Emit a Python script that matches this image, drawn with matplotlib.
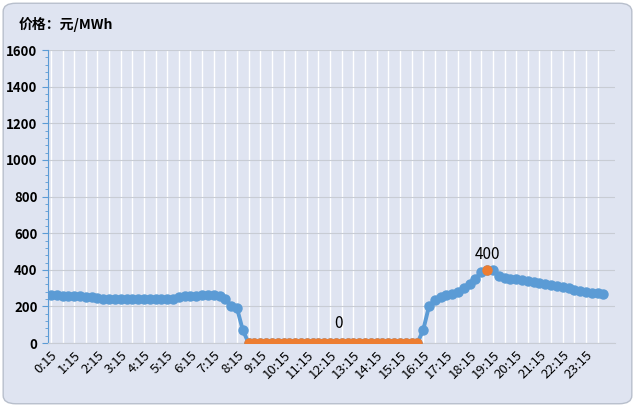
import numpy as np
import matplotlib.pyplot as plt
from matplotlib.patches import FancyBboxPatch

plt.rcParams['font.family'] = ['Noto Sans CJK SC', 'DejaVu Sans']

# 96 intervalos de 15 min (0:15 ... 24:00)
times = ['{}:{:02d}'.format((15 * (i + 1)) // 60, (15 * (i + 1)) % 60) for i in range(96)]
price = ([262, 260, 258, 258, 256, 255, 252, 250, 245, 242]
         + [240] * 12
         + [250, 255, 258, 258, 260, 262, 260, 255, 240, 205, 190, 70]
         + [0] * 30
         + [70, 200, 235, 250, 260, 270, 280, 300, 320, 350, 390, 400, 400,
            365, 355, 352, 350, 345, 340, 335, 330, 325, 318, 310, 305, 300,
            292, 285, 280, 275, 272, 270])
price = np.array(price, dtype=float)
zero_idx = np.arange(34, 64)
peak_idx = 75
tick_idx = np.arange(0, 96, 4)

BLUE = '#5b9bd5'
ORANGE = '#ed7d31'

fig = plt.figure(figsize=(6.35, 4.07), dpi=100)
fig.patch.set_facecolor('white')
fig.patches.append(FancyBboxPatch((0.005, 0.008), 0.99, 0.984,
                                  boxstyle='round,pad=0,rounding_size=0.02',
                                  transform=fig.transFigure, facecolor='#dfe4f1',
                                  edgecolor='#b8bfcc', linewidth=1, zorder=-10))
ax = fig.add_axes([0.0756, 0.157, 0.893, 0.72])
ax.set_facecolor('#dfe4f1')
x = np.arange(96)
ax.plot(x, price, color=BLUE, lw=2.8, marker='o', ms=6.5, zorder=3)
ax.plot(x[zero_idx], price[zero_idx], color=ORANGE, lw=2.8, marker='o', ms=6.5, zorder=4)
ax.plot([peak_idx], [price[peak_idx]], color=ORANGE, marker='o', ms=6.5, zorder=5)
ax.text(49.5, 60, '0', ha='center', va='bottom', fontsize=11)
ax.text(peak_idx, 440, '400', ha='center', va='bottom', fontsize=11)

ax.set_xlim(-0.5, 97)
ax.set_ylim(0, 1600)
ax.set_yticks(np.arange(0, 1601, 200))
ax.set_yticks(np.arange(0, 1601, 40), minor=True)
ax.set_xticks(tick_idx)
ax.set_xticks(np.arange(0, 96, 2), minor=True)
ax.set_xticklabels([times[i] for i in tick_idx], rotation=45, ha='right',
                   rotation_mode='anchor', fontsize=9.5)
for lb in ax.get_yticklabels():
    lb.set_fontweight('bold')
    lb.set_fontsize(9.5)
ax.grid(True, which='both', axis='x', color='white', lw=1)
ax.grid(True, which='major', axis='y', color='#c8ccd4', lw=0.8)
ax.set_axisbelow(True)
for s in ['top', 'right']:
    ax.spines[s].set_visible(False)
ax.spines['left'].set_color(BLUE)
ax.spines['bottom'].set_color('#c8ccd4')
ax.tick_params(axis='y', which='both', colors=BLUE, labelcolor='black', length=4)
ax.tick_params(axis='y', which='minor', length=2)
ax.tick_params(axis='x', which='both', length=0, pad=4)

fig.text(0.03, 0.94, '价格：元/MWh', fontsize=10, fontweight='bold', va='center')

fig.savefig('out.png', dpi=100)
